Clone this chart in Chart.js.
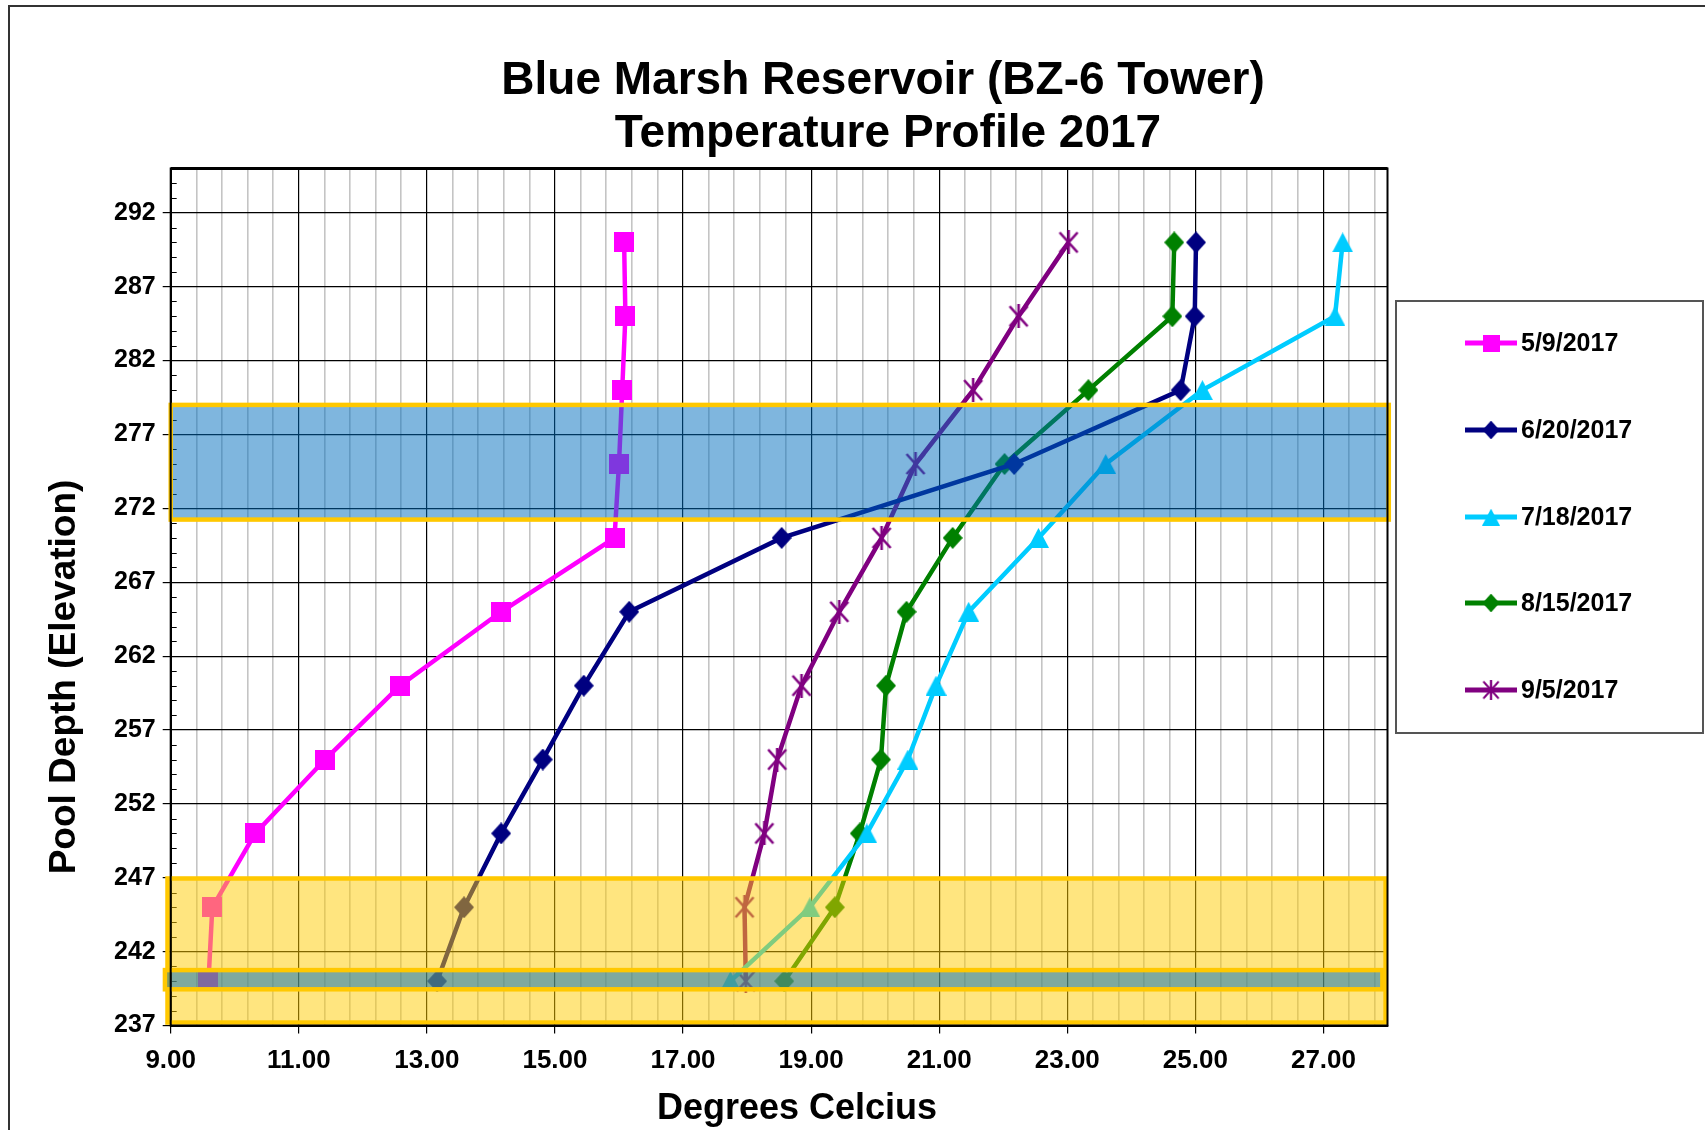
<!DOCTYPE html>
<html>
<head>
<meta charset="utf-8">
<script src="https://cdn.jsdelivr.net/npm/chart.js@4.4.1/dist/chart.umd.min.js"></script>
<style>
  html, body { margin: 0; padding: 0; background: #fff; }
  #wrap { width: 1705px; height: 1130px; position: relative; }
</style>
</head>
<body>
<div id="wrap"><canvas id="c"></canvas></div>
<script>
// ---------- data ----------
const depths   = [290, 285, 280, 275, 270, 265, 260, 255, 250, 245, 240];
const t_0509   = [16.08, 16.10, 16.05, 16.00, 15.93, 14.16, 12.58, 11.41, 10.32, 9.65, 9.59];
const t_0620   = [25.01, 24.99, 24.77, 22.17, 18.54, 16.16, 15.45, 14.81, 14.16, 13.58, 13.16];
const t_0718   = [27.30, 27.18, 25.11, 23.60, 22.55, 21.46, 20.95, 20.51, 19.87, 18.98, 17.74];
const t_0815   = [24.67, 24.64, 23.33, 22.02, 21.21, 20.49, 20.17, 20.09, 19.76, 19.37, 18.58];
const t_0905   = [23.02, 22.24, 21.53, 20.63, 20.10, 19.44, 18.85, 18.47, 18.27, 17.96, 17.98];
const seriesLabels = ['5/9/2017', '6/20/2017', '7/18/2017', '8/15/2017', '9/5/2017'];
const yTickValues = [237, 242, 247, 252, 257, 262, 267, 272, 277, 282, 287, 292];
const xMajorLabels = ['9.00', '11.00', '13.00', '15.00', '17.00', '19.00', '21.00', '23.00', '25.00', '27.00'];
const xMin = 9, xMax = 28, xMinorStep = 0.4;
const yMin = 237, yMax = 295;
// highlighted bands (data coordinates)
const bandBlue   = { x0: 9.0,  x1: 28.02, y0: 271.24, y1: 279.0 };
const bandYellow = { x0: 8.95, x1: 27.97, y0: 237.2,  y1: 246.95 };
const bandTeal   = { x0: 8.91, x1: 27.92, y0: 239.45, y1: 240.75 };

// ---------- markers ----------
function makeMarker(kind, color, w, h) {
  const c = document.createElement('canvas');
  c.width = w; c.height = h;
  const g = c.getContext('2d');
  g.fillStyle = color; g.strokeStyle = color;
  if (kind === 'square') {
    g.fillRect(0, 0, w, h);
  } else if (kind === 'diamond') {
    g.beginPath(); g.moveTo(w / 2, 0); g.lineTo(w, h / 2); g.lineTo(w / 2, h); g.lineTo(0, h / 2); g.closePath(); g.fill();
  } else if (kind === 'triangle') {
    g.beginPath(); g.moveTo(w / 2, 0); g.lineTo(w, h); g.lineTo(0, h); g.closePath(); g.fill();
  } else if (kind === 'star') {
    g.lineWidth = 2.6; g.lineCap = 'butt';
    g.beginPath();
    g.moveTo(2, 2); g.lineTo(w - 2, h - 2);
    g.moveTo(w - 2, 2); g.lineTo(2, h - 2);
    g.moveTo(w / 2, 0); g.lineTo(w / 2, h);
    g.stroke();
  }
  return c;
}
const colors = ['#FF00FF', '#000080', '#00CCFF', '#008000', '#800080'];
const markers = [
  makeMarker('square', colors[0], 20, 20),
  makeMarker('diamond', colors[1], 20, 22),
  makeMarker('triangle', colors[2], 21, 20),
  makeMarker('diamond', colors[3], 20, 22),
  makeMarker('star', colors[4], 22, 24)
];
const seriesTemps = [t_0509, t_0620, t_0718, t_0815, t_0905];

const datasets = seriesTemps.map((temps, i) => ({
  label: seriesLabels[i],
  data: temps.map((t, k) => ({ x: t, y: depths[k] })),
  showLine: true,
  borderColor: colors[i],
  backgroundColor: colors[i],
  borderWidth: 4.5,
  pointStyle: markers[i],
  pointRadius: 10,
  pointHoverRadius: 10,
  tension: 0
}));

const FONT = '"Liberation Sans", Arial, Helvetica, sans-serif';
const isMajorX = v => Math.abs(((v - xMin) / 2) - Math.round((v - xMin) / 2)) < 1e-6;

// ---------- plugins ----------
const decor = {
  id: 'decor',
  beforeDatasetsDraw(chart) {
    const { ctx, chartArea: a, scales: { y } } = chart;
    ctx.save();
    ctx.strokeStyle = '#000'; ctx.lineWidth = 1;
    for (let v = yMin; v <= yMax; v++) {
      if (yTickValues.includes(v)) continue;
      const py = Math.round(y.getPixelForValue(v)) + 0.5;
      ctx.beginPath(); ctx.moveTo(a.left, py); ctx.lineTo(a.left + 6, py); ctx.stroke();
    }
    ctx.restore();
  },
  afterDatasetsDraw(chart) {
    const { ctx, scales: { x, y } } = chart;
    const rect = b => {
      const l = x.getPixelForValue(b.x0), r = x.getPixelForValue(b.x1);
      const t = y.getPixelForValue(b.y1), bt = y.getPixelForValue(b.y0);
      return [l, t, r - l, bt - t];
    };
    ctx.save();
    let [l, t, w, h] = rect(bandYellow);
    ctx.fillStyle = 'rgba(255,204,0,0.5)';
    ctx.fillRect(l, t, w, h);
    ctx.strokeStyle = '#FFC800'; ctx.lineWidth = 4.5;
    ctx.strokeRect(l, t, w, h);
    [l, t, w, h] = rect(bandTeal);
    ctx.fillStyle = 'rgba(0,110,190,0.5)';
    ctx.fillRect(l, t, w, h);
    ctx.strokeStyle = '#FFC800'; ctx.lineWidth = 4.5;
    ctx.strokeRect(l, t, w, h);
    [l, t, w, h] = rect(bandBlue);
    ctx.fillStyle = 'rgba(0,110,190,0.5)';
    ctx.fillRect(l, t, w, h);
    ctx.strokeStyle = '#FFC800'; ctx.lineWidth = 4.5;
    ctx.strokeRect(l, t, w, h);
    ctx.restore();
  },
  afterDraw(chart) {
    const { ctx, chartArea: a } = chart;
    ctx.save();
    ctx.strokeStyle = '#000'; ctx.lineWidth = 2;
    ctx.strokeRect(a.left, a.top, a.right - a.left, a.bottom - a.top);
    ctx.lineWidth = 3;
    ctx.beginPath(); ctx.moveTo(a.left, a.top); ctx.lineTo(a.right, a.top); ctx.stroke();

    ctx.strokeStyle = '#333'; ctx.lineWidth = 2;
    ctx.beginPath(); ctx.moveTo(9, 1130); ctx.lineTo(9, 6); ctx.lineTo(1705, 6); ctx.stroke();

    ctx.fillStyle = '#000';
    ctx.textAlign = 'center'; ctx.textBaseline = 'middle';
    ctx.font = 'bold 46px ' + FONT;
    ctx.fillText('Blue Marsh Reservoir (BZ-6 Tower)', 883, 81);
    ctx.fillText('Temperature Profile 2017', 888, 134);

    ctx.font = 'bold 36px ' + FONT;
    ctx.fillText('Degrees Celcius', 797, 1109);
    ctx.save();
    ctx.translate(65, 677);
    ctx.rotate(-Math.PI / 2);
    ctx.font = 'bold 37px ' + FONT;
    ctx.fillText('Pool Depth (Elevation)', 0, 0);
    ctx.restore();

    ctx.strokeStyle = '#555'; ctx.lineWidth = 2;
    ctx.strokeRect(1396, 301, 307, 432);
    const itemY = [343, 430, 517, 603, 690];
    chart.data.datasets.forEach((ds, i) => {
      const cy = itemY[i];
      ctx.strokeStyle = ds.borderColor; ctx.lineWidth = 5;
      ctx.beginPath(); ctx.moveTo(1465, cy); ctx.lineTo(1517, cy); ctx.stroke();
      const m = ds.pointStyle, s = 0.85;
      ctx.drawImage(m, 1491 - m.width * s / 2, cy - m.height * s / 2, m.width * s, m.height * s);
      ctx.fillStyle = '#000';
      ctx.textAlign = 'left'; ctx.textBaseline = 'middle';
      ctx.font = 'bold 25px ' + FONT;
      ctx.fillText(ds.label, 1521, cy + 1);
    });
    ctx.restore();
  }
};

new Chart(document.getElementById('c'), {
  type: 'scatter',
  data: { datasets },
  options: {
    responsive: true,
    maintainAspectRatio: false,
    animation: false,
    events: [],
    layout: { padding: { left: 70.7, right: 317.5, top: 168.5, bottom: 44.5 } },
    plugins: { legend: { display: false }, title: { display: false }, tooltip: { enabled: false } },
    scales: {
      x: {
        type: 'linear', min: xMin, max: xMax,
        afterBuildTicks(axis) {
          const n = Math.floor((xMax - xMin) / xMinorStep + 1e-9);
          const t = [];
          for (let i = 0; i <= n; i++) t.push({ value: +(xMin + i * xMinorStep).toFixed(2) });
          axis.ticks = t;
        },
        afterFit(axis) { axis.height = 60; },
        ticks: {
          autoSkip: false, maxRotation: 0, padding: 12,
          color: '#000', font: { family: FONT, size: 26, weight: 'bold' },
          callback: v => isMajorX(v) ? xMajorLabels[Math.round((v - xMin) / 2)] : ''
        },
        grid: {
          color: c => isMajorX(c.tick.value) ? '#000' : '#c4c4c4',
          lineWidth: c => isMajorX(c.tick.value) ? 1.2 : 1.6,
          tickColor: c => isMajorX(c.tick.value) ? '#000' : 'rgba(0,0,0,0)',
          tickLength: 8
        },
        border: { display: true, color: '#000', width: 2 }
      },
      y: {
        type: 'linear', min: yMin, max: yMax,
        afterBuildTicks(axis) { axis.ticks = yTickValues.map(v => ({ value: v })); },
        afterFit(axis) { axis.width = 100; },
        ticks: {
          autoSkip: false, padding: 7,
          color: '#000', font: { family: FONT, size: 25, weight: 'bold' },
          callback: v => String(v)
        },
        grid: { color: '#000', lineWidth: 1.2, tickColor: '#000', tickLength: 8 },
        border: { display: true, color: '#000', width: 2 }
      }
    }
  },
  plugins: [decor]
});
</script>
</body>
</html>
